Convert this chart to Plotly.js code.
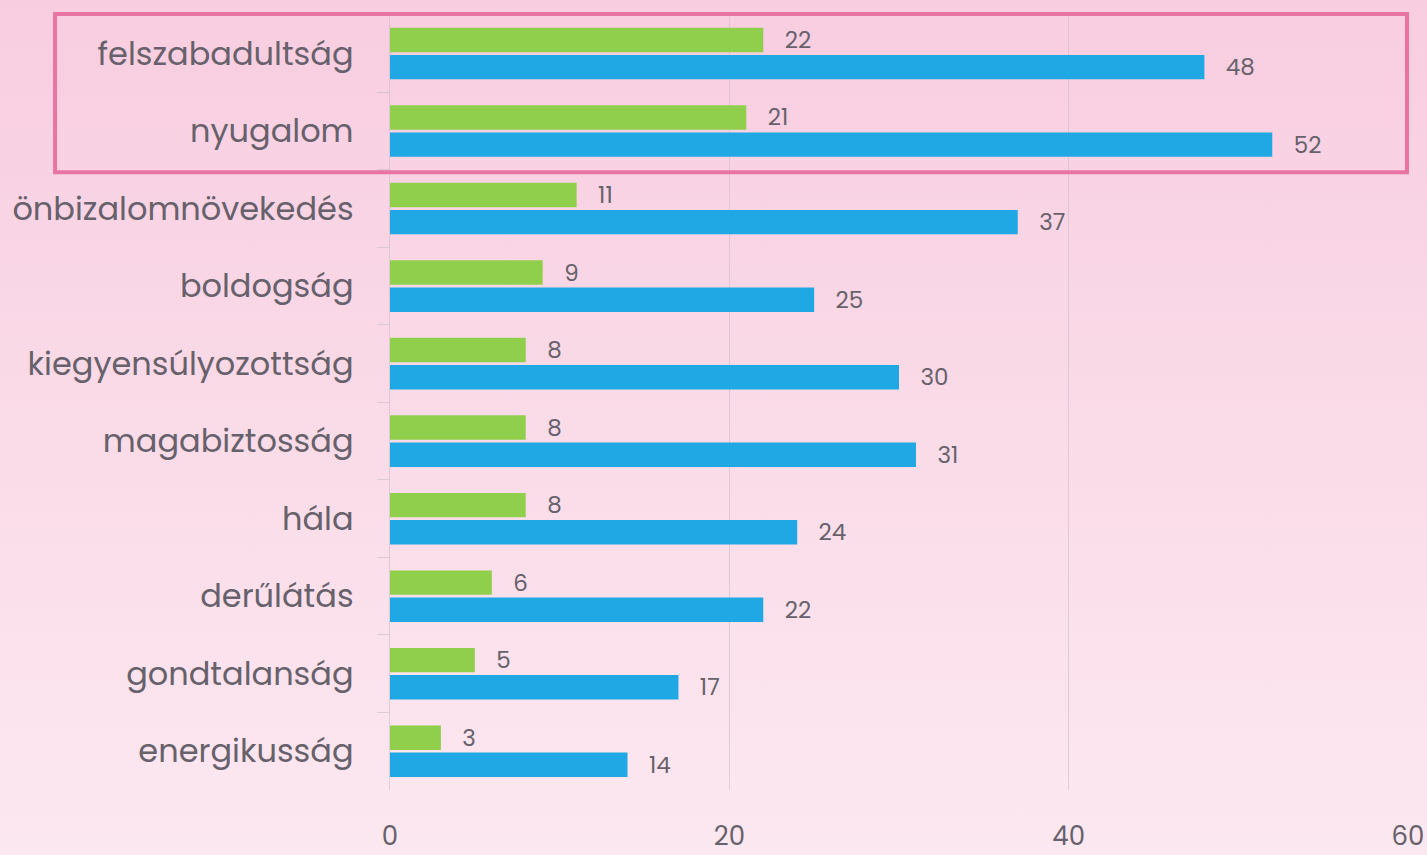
<!DOCTYPE html>
<html>
<head>
<meta charset="utf-8">
<script src="https://cdn.plot.ly/plotly-3.0.1.min.js"></script>
<style>
  html, body { margin: 0; padding: 0; width: 1427px; height: 855px; overflow: hidden;
    background: linear-gradient(to bottom, #f8cde0 0%, #fadbe8 50%, #fce8f0 100%); }
  #chart { width: 1427px; height: 855px; }
</style>
</head>
<body>
<div id="chart"></div>
<script>
const categories = ["felszabadultság", "nyugalom", "önbizalomnövekedés", "boldogság",
  "kiegyensúlyozottság", "magabiztosság", "hála", "derűlátás", "gondtalanság", "energikusság"];
const greenValues = [22, 21, 11, 9, 8, 8, 8, 6, 5, 3];
const blueValues = [48, 52, 37, 25, 30, 31, 24, 22, 17, 14];
const xTicks = [0, 20, 40, 60];

const font = "Poppins, 'Open Sans', Lato, sans-serif";
const textCol = "#67616b";

const traceBase = {
  type: "bar", orientation: "h", y: categories,
  textposition: "outside", cliponaxis: false, constraintext: "none",
  texttemplate: "\u00a0\u00a0\u00a0%{x}",
  textfont: { family: font, size: 23, color: textCol },
  hoverinfo: "skip"
};

const data = [
  Object.assign({}, traceBase, { x: greenValues,
    marker: { color: "#8fcf4b" }, name: "green" }),
  Object.assign({}, traceBase, { x: blueValues,
    marker: { color: "#1fa8e3" }, name: "blue" })
];

const layout = {
  width: 1427, height: 855,
  margin: { l: 390, r: 19, t: 12, b: 65 },
  paper_bgcolor: "rgba(0,0,0,0)", plot_bgcolor: "rgba(0,0,0,0)",
  showlegend: false,
  barmode: "group", bargap: 0.3, bargroupgap: 0.1,
  font: { family: font, color: textCol },
  xaxis: {
    range: [0, 60], tickvals: xTicks, ticktext: xTicks.map(String),
    showgrid: true, gridcolor: "rgba(200,190,200,0.6)", gridwidth: 1,
    zeroline: false, showline: false, ticks: "",
    tickfont: { family: font, size: 26, color: textCol },
    ticklabelstandoff: 28
  },
  yaxis: {
    type: "category", autorange: "reversed",
    showline: true, linecolor: "rgba(200,190,200,0.6)", linewidth: 1,
    ticks: "outside", tickson: "boundaries", ticklen: 12, tickcolor: "rgba(200,190,200,0.6)",
    showgrid: false,
    tickfont: { family: font, size: 32, color: textCol },
    ticklabelstandoff: 29
  },
  shapes: [{
    type: "rect", xref: "paper", yref: "y",
    x0: -0.329, x1: 0.999, y0: -0.51, y1: 1.53,
    line: { color: "#e774a3", width: 4 }, fillcolor: "rgba(0,0,0,0)", layer: "above"
  }]
};

Plotly.newPlot("chart", data, layout, { displayModeBar: false, staticPlot: true });
</script>
</body>
</html>
